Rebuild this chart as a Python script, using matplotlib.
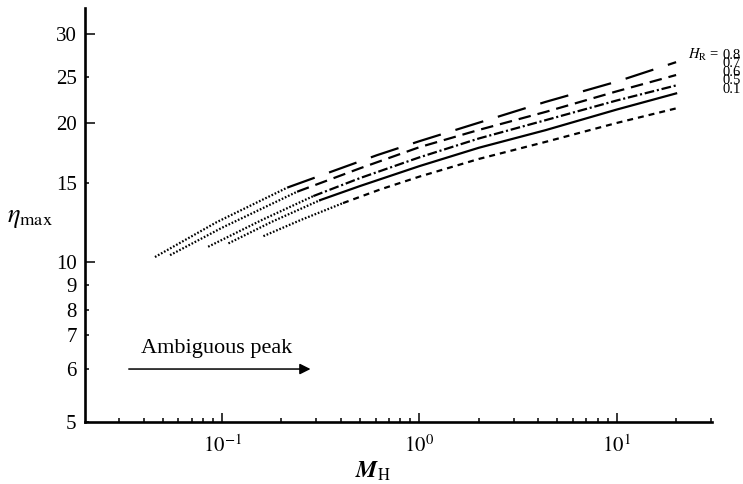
import numpy as np
import matplotlib
matplotlib.use('Agg')
import matplotlib.pyplot as plt

plt.rcParams['font.family'] = ['Liberation Serif', 'DejaVu Serif']
plt.rcParams['mathtext.fontset'] = 'stix'
plt.rcParams['lines.scale_dashes'] = False

# H_R curves: M_H vs eta_max
hr_labels = ['0.8', '0.7', '0.6', '0.5', '0.1']

m_08 = [0.0457, 0.094, 0.214, 0.61, 1.0, 2.58, 4.36, 10, 20]
eta_08 = [10.25, 12.28, 14.68, 17.18, 18.37, 20.74, 22.18, 24.44, 26.6]

m_07 = [0.0545, 0.1, 0.24, 0.5, 1.0, 2.0, 4.36, 10, 20]
eta_07 = [10.35, 11.93, 14.37, 16.13, 17.85, 19.39, 21.14, 23.33, 25.2]

m_06 = [0.085, 0.16, 0.29, 0.5, 1.0, 2.0, 4.36, 10, 20]
eta_06 = [10.81, 12.43, 14.05, 15.39, 17.0, 18.61, 20.32, 22.33, 24.0]

m_05 = [0.1077, 0.178, 0.314, 0.5, 1.0, 2.0, 4.36, 10, 20]
eta_05 = [11.0, 12.29, 13.76, 14.8, 16.3, 17.8, 19.37, 21.38, 23.1]

m_01 = [0.162, 0.25, 0.41, 0.63, 1.0, 2.0, 4.36, 10, 20]
eta_01 = [11.42, 12.41, 13.55, 14.53, 15.5, 16.87, 18.31, 20.05, 21.5]

# below these M_H the peak is ambiguous (dotted part)
m_ambig = [0.214, 0.24, 0.29, 0.314, 0.41]

styles = [(0, (21, 11)), (0, (9, 5)), (0, (7, 2, 1.5, 2)), '-', (0, (4.3, 3.6))]
dotted = (0, (1.2, 1.3))

# y axis of the original is only roughly logarithmic: calibrate on its ticks
eta_ticks = [5, 6, 7, 8, 9, 10, 15, 20, 25, 30]
tick_px = [0, 52.7, 86.7, 111.7, 136.7, 160, 238.4, 298.4, 345, 388.4]

kx = np.log10(eta_ticks)
ky = np.array(tick_px)
lo_slope = (ky[1] - ky[0]) / (kx[1] - kx[0])
hi_slope = (ky[-1] - ky[-2]) / (kx[-1] - kx[-2])
kx = np.concatenate([[-6], kx, [6]])
ky = np.concatenate([[ky[0] - lo_slope * (kx[1] + 6)], ky, [ky[-1] + hi_slope * (6 - kx[-2])]])


def fwd(y):
    y = np.clip(np.asarray(y, float), 1e-6, 1e6)
    return np.interp(np.log10(y), kx, ky)


def inv(s):
    return 10 ** np.interp(np.asarray(s, float), ky, kx)


fig = plt.figure(figsize=(7.43, 4.84), dpi=100)
ax = fig.add_axes([85 / 743, 62.3 / 484, 626.7 / 743, 413.7 / 484])
ax.set_xscale('log')
ax.set_yscale('function', functions=(fwd, inv))

curves = [(m_08, eta_08), (m_07, eta_07), (m_06, eta_06), (m_05, eta_05), (m_01, eta_01)]
for (m, eta), ls, split in zip(curves, styles, m_ambig):
    m = np.array(m)
    eta = np.array(eta)
    a = m <= split
    b = m >= split
    ax.plot(m[a], eta[a], color='black', lw=1.6, linestyle=dotted)
    ax.plot(m[b], eta[b], color='black', lw=1.6, linestyle=ls)

ax.set_xlim(0.0202, 30.3)
ax.set_ylim(5, 33.4)

for s in ['top', 'right']:
    ax.spines[s].set_visible(False)
for s in ['left', 'bottom']:
    ax.spines[s].set_linewidth(1.9)

ax.yaxis.set_major_locator(matplotlib.ticker.FixedLocator([10, 20, 30]))
ax.yaxis.set_minor_locator(matplotlib.ticker.FixedLocator([5, 6, 7, 8, 9, 15, 25]))
ax.yaxis.set_major_formatter(matplotlib.ticker.FormatStrFormatter('%d'))
ax.yaxis.set_minor_formatter(matplotlib.ticker.FormatStrFormatter('%d'))

ax.xaxis.set_major_locator(matplotlib.ticker.FixedLocator([0.1, 1, 10]))
ax.xaxis.set_major_formatter(matplotlib.ticker.FixedFormatter([r'$10^{-1}$', r'$10^{0}$', r'$10^{1}$']))
ax.xaxis.set_minor_locator(matplotlib.ticker.LogLocator(base=10, subs=np.arange(2, 10), numticks=20))
ax.xaxis.set_minor_formatter(matplotlib.ticker.NullFormatter())

ax.tick_params(which='both', direction='in', width=1.1, labelsize=15)
ax.tick_params(axis='y', which='major', length=7, pad=6)
ax.tick_params(axis='y', which='minor', length=3, pad=6)
ax.tick_params(axis='x', which='major', length=6.5, pad=10)
ax.tick_params(axis='x', which='minor', length=3)

ax.set_ylabel(r'$\eta_{\mathrm{max}}$', fontsize=19, rotation=0, va='center')
ax.yaxis.set_label_coords(-0.088, 0.49)
ax.set_xlabel(r'$\mathbfit{M}_{\mathrm{H}}$', fontsize=17, va='baseline')
ax.xaxis.set_label_coords(0.459, -0.136)

# curve labels at the right end, stacked tightly as in the original
ax.text(1.012, 0.886, r'$H_{\mathrm{R}}$ =', transform=ax.transAxes, fontsize=10.5,
        ha='right', va='center')
ax.text(1.0175, 0.902, '\n'.join(hr_labels), transform=ax.transAxes, fontsize=10.5,
        ha='left', va='top', linespacing=0.56)

ax.annotate('', xy=(0.29, 6), xytext=(0.0326, 6),
            arrowprops=dict(arrowstyle='-|>', lw=1.1, color='black', mutation_scale=16))
ax.text(0.0943, 6.45, 'Ambiguous peak', fontsize=16, ha='center', va='baseline')

fig.savefig('out.png', dpi=100)
